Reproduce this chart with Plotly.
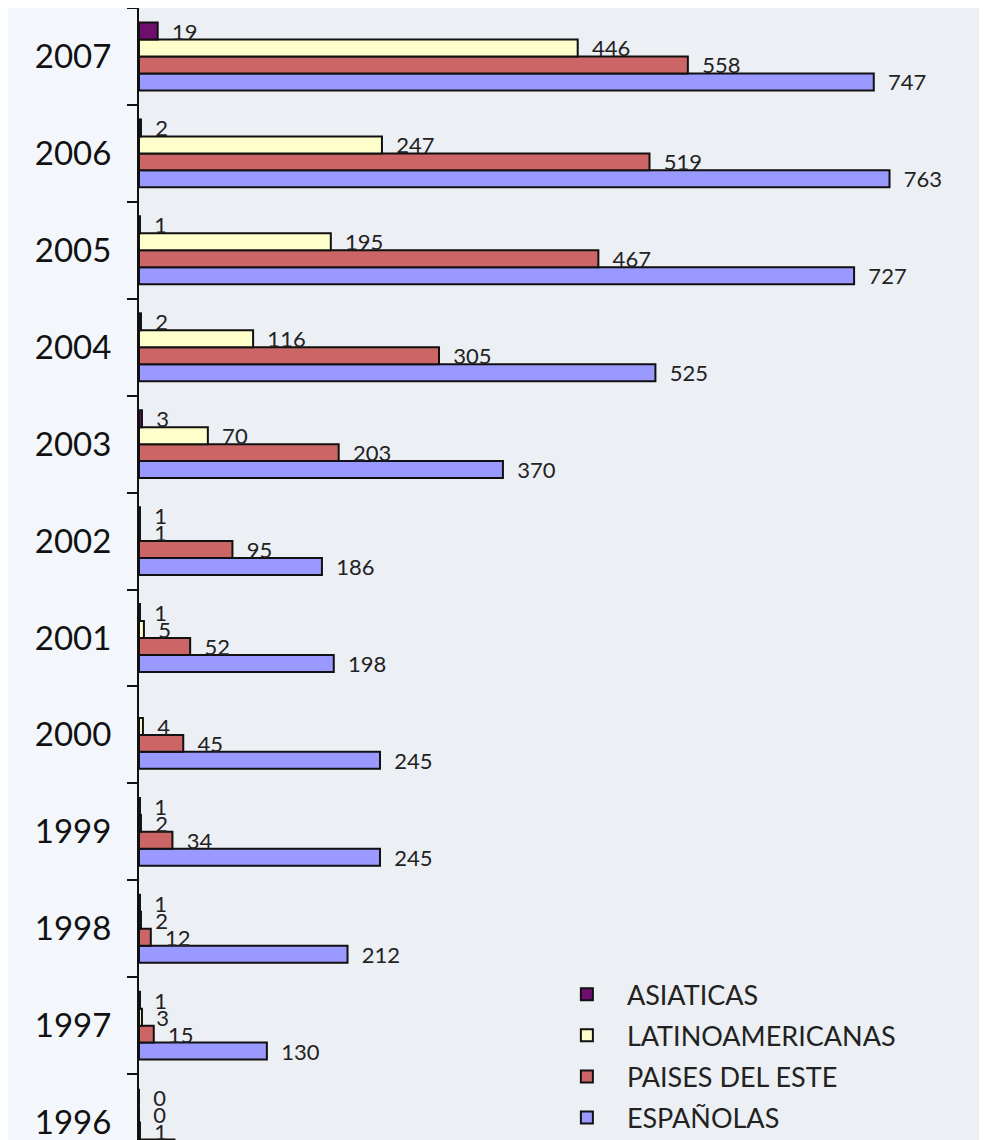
import plotly.graph_objects as go

years = ["2007", "2006", "2005", "2004", "2003", "2002", "2001", "2000", "1999", "1998", "1997", "1996"]
asiaticas = [19, 2, 1, 2, 3, 1, 1, None, 1, 1, 1, 0]
latinoamericanas = [446, 247, 195, 116, 70, 1, 5, 4, 2, 2, 3, 0]
paises_este = [558, 519, 467, 305, 203, 95, 52, 45, 34, 12, 15, 1]
espanolas = [747, 763, 727, 525, 370, 186, 198, 245, 245, 212, 130, 36]

series = [
    ("ESPAÑOLAS", espanolas, "#9999ff", 4),
    ("PAISES DEL ESTE", paises_este, "#cc6666", 3),
    ("LATINOAMERICANAS", latinoamericanas, "#ffffcc", 2),
    ("ASIATICAS", asiaticas, "#6e0f6e", 1),
]

FONT = "Lato, 'Open Sans', sans-serif"

fig = go.Figure()
for name, vals, color, rank in series:
    fig.add_trace(go.Bar(
        name=name,
        y=years,
        x=vals,
        orientation="h",
        marker=dict(color=color, line=dict(color="#111111", width=2)),
        text=[("" if v is None else str(v)) for v in vals],
        texttemplate="  %{text}",
        textposition="outside",
        constraintext="none",
        textfont=dict(family=FONT, size=22, color="#222222"),
        cliponaxis=False,
        legendrank=rank,
        legendgroup=name,
    ))

fig.update_layout(
    width=979,
    height=1132,
    margin=dict(l=131, r=7, t=0, b=0, autoexpand=False),
    barmode="group",
    bargap=0.3,
    bargroupgap=0,
    paper_bgcolor="#f3f7fc",
    plot_bgcolor="#eceff3",
    font=dict(family=FONT, color="#111111"),
    showlegend=True,
    legend=dict(
        x=0.485, xanchor="left",
        y=0.15, yanchor="top",
        bgcolor="rgba(0,0,0,0)",
        font=dict(family=FONT, size=27, color="#222222"),
        itemwidth=70,
        tracegroupgap=3,
        traceorder="grouped",
    ),
    xaxis=dict(
        range=[0, 855],
        showgrid=False, zeroline=False, showticklabels=False, showline=False, ticks="",
    ),
    yaxis=dict(
        type="category",
        categoryorder="array",
        categoryarray=years[::-1],
        range=[-0.18, 11.5],
        automargin=False,
        showline=True, linecolor="#111111", linewidth=2,
        ticks="outside", ticklen=10, tickwidth=2, tickcolor="#111111",
        tickson="boundaries",
        showgrid=False, zeroline=False,
        tickfont=dict(family=FONT, size=33, color="#111111"),
        ticklabelstandoff=19,
    ),
)

fig.write_html("out.html")
